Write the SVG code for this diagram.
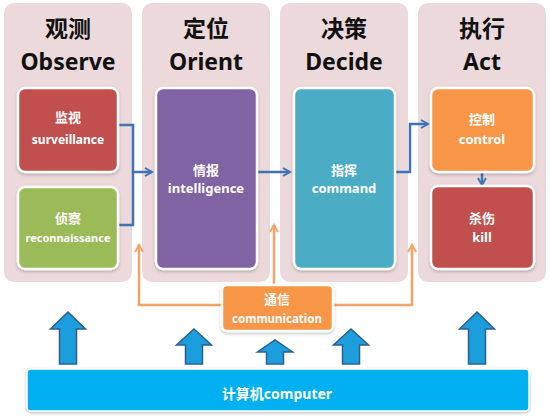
<svg xmlns="http://www.w3.org/2000/svg" width="550" height="416" viewBox="0 0 550 416">
<defs>
<style>
.col{fill:#ecd9dc;}
.box{stroke:#ffffff;stroke-width:2.5;}
.title{font-family:"Noto Sans","Noto Sans CJK SC",sans-serif;font-weight:bold;font-size:23px;fill:#111111;text-anchor:middle;}
.lbl{font-family:"Noto Sans","Noto Sans CJK SC",sans-serif;font-weight:bold;font-size:12px;fill:#ffffff;text-anchor:middle;}
.zh{font-family:"Noto Sans CJK SC",sans-serif;font-weight:bold;font-size:13px;fill:#ffffff;text-anchor:middle;}
.conn{fill:none;stroke:#3f73b5;stroke-width:2.5;}
.oconn{fill:none;stroke:#f3a466;stroke-width:2.5;}
.blk{fill:#1b9edb;stroke:#2b5f93;stroke-width:1.5;}
</style>
<marker id="ab" viewBox="0 0 10 10" refX="8" refY="5" markerWidth="4" markerHeight="4" orient="auto" markerUnits="strokeWidth"><path d="M1,1 L8,5 L1,9" fill="none" stroke="#3f73b5" stroke-width="2"/></marker>
<marker id="ao" viewBox="0 0 10 10" refX="8" refY="5" markerWidth="4" markerHeight="4" orient="auto" markerUnits="strokeWidth"><path d="M1,1 L8,5 L1,9" fill="none" stroke="#f3a466" stroke-width="2"/></marker>
<filter id="sh" x="-10%" y="-10%" width="120%" height="130%"><feDropShadow dx="0" dy="1.5" stdDeviation="1.5" flood-color="#000" flood-opacity="0.25"/></filter>
</defs>

<g id="col-observe">
<rect class="col" x="4" y="3" width="128" height="279" rx="10"/>
<text class="title" x="68" y="37">观测</text>
<text class="title" x="68" y="70">Observe</text>
</g>
<g id="col-orient">
<rect class="col" x="142" y="3" width="128" height="279" rx="10"/>
<text class="title" x="206" y="37">定位</text>
<text class="title" x="206" y="70">Orient</text>
</g>
<g id="col-decide">
<rect class="col" x="280" y="3" width="128" height="279" rx="10"/>
<text class="title" x="344" y="37">决策</text>
<text class="title" x="344" y="70">Decide</text>
</g>
<g id="col-act">
<rect class="col" x="418" y="3" width="128" height="279" rx="10"/>
<text class="title" x="482" y="37">执行</text>
<text class="title" x="482" y="70">Act</text>
</g>

<g id="connectors">
<path class="conn" d="M118,125 H133 V172 H152" marker-end="url(#ab)"/>
<path class="conn" d="M118,225 H133 V172"/>
<path class="conn" d="M257,172 H290" marker-end="url(#ab)"/>
<path class="conn" d="M395,172 H410 V124 H428" marker-end="url(#ab)"/>
<path class="conn" d="M482,172 V185" marker-end="url(#ab)"/>
<path class="oconn" d="M222,305 H139 V245" marker-end="url(#ao)"/>
<path class="oconn" d="M333,305 H412 V245" marker-end="url(#ao)"/>
<path class="oconn" d="M274,285 V225" marker-end="url(#ao)"/>
</g>

<g id="surveillance">
<rect class="box" x="18" y="88" width="100" height="84" rx="7" fill="#c0504d" filter="url(#sh)"/>
<text class="zh" x="68" y="122">监视</text>
<text class="lbl" x="68" y="144">surveillance</text>
</g>
<g id="reconnaissance">
<rect class="box" x="18" y="187" width="100" height="82" rx="7" fill="#9bbb59" filter="url(#sh)"/>
<text class="zh" x="68" y="223">侦察</text>
<text class="lbl" x="68" y="242" style="font-size:11px">reconnaissance</text>
</g>
<g id="intelligence">
<rect class="box" x="156" y="88" width="101" height="181" rx="7" fill="#8064a2" filter="url(#sh)"/>
<text class="zh" x="206" y="175">情报</text>
<text class="lbl" x="206" y="193" style="font-size:13px">intelligence</text>
</g>
<g id="command">
<rect class="box" x="294" y="88" width="101" height="181" rx="7" fill="#4bacc6" filter="url(#sh)"/>
<text class="zh" x="344" y="175">指挥</text>
<text class="lbl" x="344" y="193" style="font-size:13px">command</text>
</g>
<g id="control">
<rect class="box" x="431" y="88" width="103" height="84" rx="7" fill="#f79646" filter="url(#sh)"/>
<text class="zh" x="482" y="124">控制</text>
<text class="lbl" x="482" y="144" style="font-size:13px">control</text>
</g>
<g id="kill">
<rect class="box" x="431" y="186" width="103" height="83" rx="7" fill="#c0504d" filter="url(#sh)"/>
<text class="zh" x="482" y="223">杀伤</text>
<text class="lbl" x="482" y="242" style="font-size:13px">kill</text>
</g>
<g id="communication">
<rect class="box" x="222" y="285" width="111" height="46" rx="5" fill="#f79646" filter="url(#sh)"/>
<text class="zh" x="277" y="304">通信</text>
<text class="lbl" x="277" y="323" style="font-size:11.5px">communication</text>
</g>

<g id="block-arrows">
<path class="blk" d="M59.5,364 V329 H50.5 L68,312 L85.5,329 H76.5 V364 Z"/>
<path class="blk" d="M185.5,364 V345 H176.5 L194,329 L211.5,345 H202.5 V364 Z"/>
<path class="blk" d="M266.5,364 V352 H257.5 L275,340 L292.5,352 H283.5 V364 Z"/>
<path class="blk" d="M342.5,364 V345 H333.5 L351,329 L368.5,345 H359.5 V364 Z"/>
<path class="blk" d="M468.5,364 V329 H459.5 L477,312 L494.5,329 H485.5 V364 Z"/>
</g>

<g id="computer">
<rect x="27" y="369" width="502" height="42" rx="4" fill="#00b0f0" stroke="#ffffff" stroke-width="1.5" filter="url(#sh)"/>
<text class="lbl" x="277" y="399" style="font-size:14px;font-family:'Noto Sans','Noto Sans CJK SC',sans-serif">计算机computer</text>
</g>
</svg>
